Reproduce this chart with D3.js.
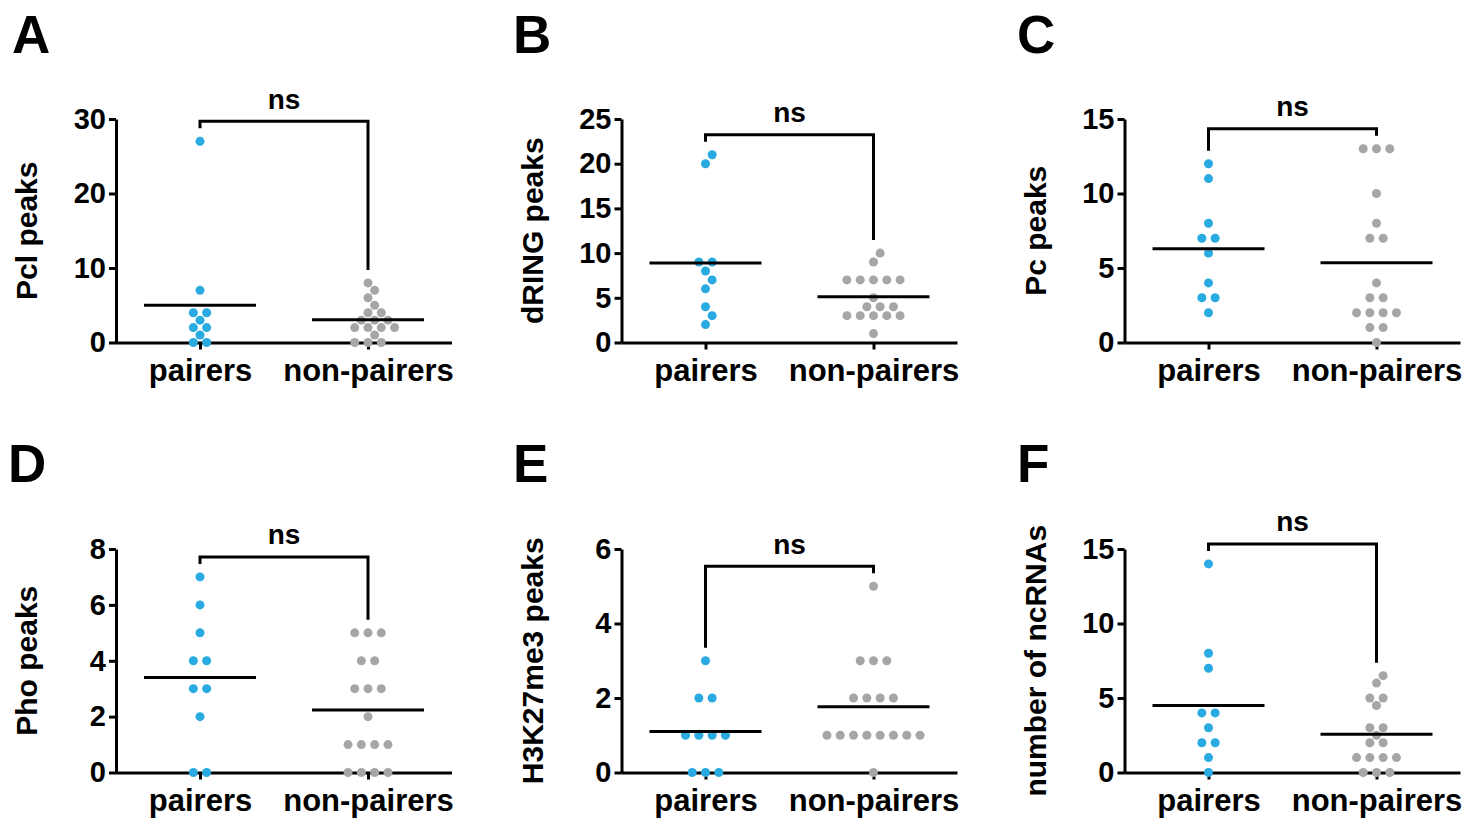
<!DOCTYPE html>
<html>
<head>
<meta charset="utf-8">
<script src="https://cdn.jsdelivr.net/npm/d3@7"></script>
<style>
  html, body { margin: 0; padding: 0; background: #fff; }
  svg { display: block; }
  text { font-family: "Liberation Sans", Arial, Helvetica, sans-serif; font-weight: bold; fill: #000; }
</style>
</head>
<body>
<svg id="fig" width="1478" height="822"></svg>
<script>
// ---- data ----
const categories = ["pairers", "non-pairers"];
const panelLetters = ["A", "B", "C", "D", "E", "F"];
const yTitles = ["Pcl peaks", "dRING peaks", "Pc peaks", "Pho peaks", "H3K27me3 peaks", "number of ncRNAs"];
const yTicks = [
  [0, 10, 20, 30],
  [0, 5, 10, 15, 20, 25],
  [0, 5, 10, 15],
  [0, 2, 4, 6, 8],
  [0, 2, 4, 6],
  [0, 5, 10, 15]
];
const significance = ["ns", "ns", "ns", "ns", "ns", "ns"];

const pclPairers = [27, 7, 4, 4, 3, 2, 2, 1, 0, 0];
const pclNonPairers = [8, 7, 6, 5, 4, 4, 3, 3, 3, 2, 2, 2, 2, 1, 0, 0, 0];
const dringPairers = [21, 20, 9, 9, 8, 7, 6, 4, 3, 2];
const dringNonPairers = [10, 9, 7, 7, 7, 7, 7, 5, 4, 4, 4, 3, 3, 3, 3, 3, 1];
const pcPairers = [12, 11, 8, 7, 7, 6, 4, 3, 3, 2];
const pcNonPairers = [13, 13, 13, 10, 8, 7, 7, 4, 3, 3, 2, 2, 2, 2, 1, 1, 0];
const phoPairers = [7, 6, 5, 4, 4, 3, 3, 2, 0, 0];
const phoNonPairers = [5, 5, 5, 4, 4, 3, 3, 3, 2, 1, 1, 1, 1, 0, 0, 0, 0];
const h3k27me3Pairers = [3, 2, 2, 1, 1, 1, 1, 0, 0, 0];
const h3k27me3NonPairers = [5, 3, 3, 3, 2, 2, 2, 2, 1, 1, 1, 1, 1, 1, 1, 1, 0];
const ncrnaPairers = [14, 8, 7, 4, 4, 3, 2, 2, 1, 0];
const ncrnaNonPairers = [6.5, 6, 5, 5, 4.5, 3, 3, 2.5, 2, 2, 1, 1, 1, 1, 0, 0, 0];

const panelSeries = [
  [pclPairers, pclNonPairers],
  [dringPairers, dringNonPairers],
  [pcPairers, pcNonPairers],
  [phoPairers, phoNonPairers],
  [h3k27me3Pairers, h3k27me3NonPairers],
  [ncrnaPairers, ncrnaNonPairers]
];

// ---- layout ----
const colAxisX = [116, 621.5, 1124.5];
const colLetterX = [[12, 513, 1017], [8, 513, 1017]];
const rowTop = [119, 549];
const rowBottom = [342.5, 772.5];
const rowLetterBase = [52.5, 482];
const plotWidth = 336;
const colors = ["#29abe2", "#a6a6a6"];
const dotR = 4.5;
const dotPitch = 13.3;
const meanHalf = 56;

const svg = d3.select("#fig");

// Lay out one column of dots as a swarm: rows of equal values are centred,
// and a row is shifted sideways in half-pitch steps until it clears the
// dots already placed.
function swarm(values, y) {
  const groups = d3.groups(values, v => v).sort((a, b) => a[0] - b[0]);
  const placed = [];
  const minDist = 2 * dotR + 0.6;
  for (const [v, arr] of groups) {
    const n = arr.length;
    const py = y(v);
    for (let step = 0; step < 40; step++) {
      const k = step === 0 ? 0 : (step % 2 === 1 ? (step + 1) / 2 : -step / 2);
      const shift = k * dotPitch / 2;
      const xs = arr.map((_, i) => (i - (n - 1) / 2) * dotPitch + shift);
      const ok = xs.every(x => placed.every(p => Math.hypot(p.dx - x, p.y - py) >= minDist));
      if (ok) {
        xs.forEach(x => placed.push({ value: v, dx: x, y: py }));
        break;
      }
    }
  }
  return placed;
}

panelSeries.forEach((series, idx) => {
  const row = Math.floor(idx / 3);
  const col = idx % 3;
  const ax = colAxisX[col];
  const ticks = yTicks[idx];

  const x = d3.scalePoint().domain(categories).range([ax, ax + plotWidth]).padding(0.5);
  const y = d3.scaleLinear().domain([0, d3.max(ticks)]).range([rowBottom[row], rowTop[row]]);

  const g = svg.append("g");

  // panel letter
  g.append("text")
    .attr("x", colLetterX[row][col])
    .attr("y", rowLetterBase[row])
    .attr("font-size", 53)
    .text(panelLetters[idx]);

  // y axis
  const yAxis = g.append("g")
    .attr("transform", `translate(${ax},0)`)
    .call(d3.axisLeft(y).tickValues(ticks).tickFormat(d3.format("d"))
      .tickSize(7).tickSizeOuter(0).tickPadding(3));
  yAxis.select(".domain").attr("stroke", "#000").attr("stroke-width", 3);
  yAxis.selectAll(".tick line").attr("stroke", "#000").attr("stroke-width", 3);
  yAxis.selectAll(".tick text")
    .attr("font-size", 29)
    .attr("font-family", null)
    .attr("fill", "#000");

  // x axis
  const xAxis = g.append("g")
    .attr("transform", `translate(0,${rowBottom[row]})`)
    .call(d3.axisBottom(x).tickSize(7).tickSizeOuter(0).tickPadding(9));
  xAxis.select(".domain").attr("stroke", "#000").attr("stroke-width", 3)
    .attr("d", `M${ax},0.5H${ax + plotWidth}`);
  xAxis.selectAll(".tick line").attr("stroke", "#000").attr("stroke-width", 3);
  xAxis.selectAll(".tick text")
    .attr("font-size", 31)
    .attr("font-family", null)
    .attr("fill", "#000");

  // y axis title
  const midY = (rowTop[row] + rowBottom[row]) / 2;
  g.append("text")
    .attr("transform", `translate(${ax - 79},${midY}) rotate(-90)`)
    .attr("text-anchor", "middle")
    .attr("font-size", 30)
    .text(yTitles[idx]);

  // dots
  series.forEach((vals, si) => {
    const cx = x(categories[si]);
    const pts = swarm(vals, y);
    g.append("g").selectAll("circle")
      .data(pts)
      .join("circle")
      .attr("cx", d => cx + d.dx)
      .attr("cy", d => d.y)
      .attr("r", dotR)
      .attr("fill", colors[si]);
  });

  // mean lines
  series.forEach((vals, si) => {
    const cx = x(categories[si]);
    const m = d3.mean(vals);
    g.append("line")
      .attr("x1", cx - meanHalf).attr("x2", cx + meanHalf)
      .attr("y1", y(m)).attr("y2", y(m))
      .attr("stroke", "#000").attr("stroke-width", 3);
  });

  // significance bracket
  const maxAll = d3.max(series.flat());
  const bracketY = y(maxAll) - 20;
  const legEnds = series.map(vals => y(d3.max(vals)) - 13);
  const x1 = x(categories[0]);
  const x2 = x(categories[1]);
  g.append("path")
    .attr("d", `M${x1},${legEnds[0]}V${bracketY}H${x2}V${legEnds[1]}`)
    .attr("fill", "none")
    .attr("stroke", "#000")
    .attr("stroke-width", 3);
  g.append("text")
    .attr("x", (x1 + x2) / 2)
    .attr("y", bracketY - 12.5)
    .attr("text-anchor", "middle")
    .attr("font-size", 28)
    .text(significance[idx]);
});
</script>
</body>
</html>
